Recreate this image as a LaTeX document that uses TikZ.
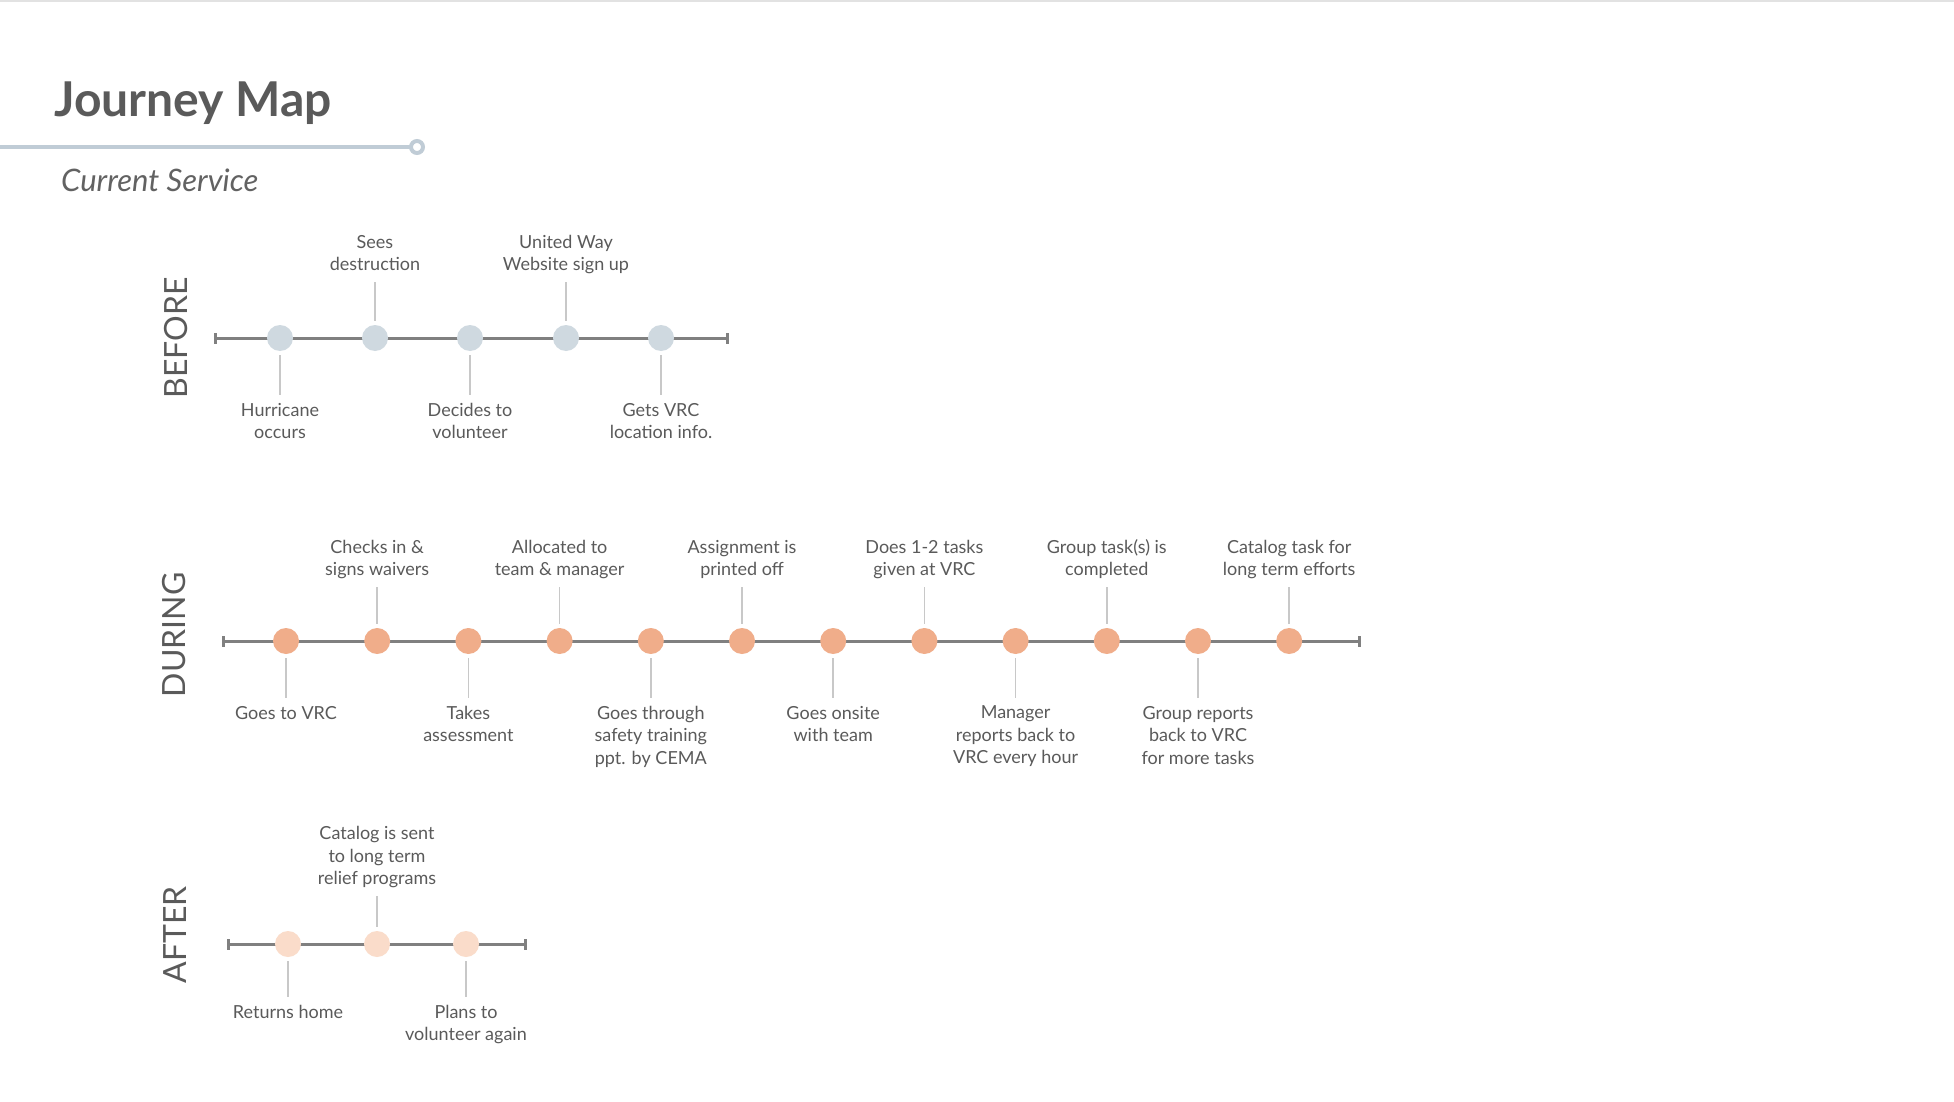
\documentclass[tikz,border=0pt]{standalone}
\usepackage{fontspec}
\setmainfont{Lato}
\usepackage{tikz}

\definecolor{inkgray}{HTML}{5A5A5A}
\definecolor{axisgray}{HTML}{808080}
\definecolor{stemgray}{HTML}{C8C8C8}
\definecolor{beforedot}{HTML}{CFD9E0}
\definecolor{duringdot}{HTML}{F0AD8A}
\definecolor{afterdot}{HTML}{FADCCA}
\definecolor{rulegray}{HTML}{C0CCD6}
\definecolor{bordergray}{HTML}{E2E2E2}

\newcommand{\labelfont}{\fontsize{18}{22.5}\selectfont}

\tikzset{
  dot/.style={circle, minimum size=26pt, inner sep=0pt, outer sep=4pt},
  lblup/.style={anchor=south, align=center, inner sep=0pt, outer sep=8pt, text=inkgray, font=\labelfont,
                execute at end node=\vphantom{gp}},
  lbldn/.style={anchor=north, align=center, inner sep=0pt, outer sep=8pt, text=inkgray, font=\labelfont},
  stem/.style={draw=stemgray, line width=1.5pt},
  axis/.style={draw=axisgray, line width=3pt},
  phase/.style={rotate=90, text=inkgray, font=\fontsize{32}{36}\selectfont}
}

\begin{document}
\begin{tikzpicture}[x=1pt, y=-1pt]
        \useasboundingbox (0,0) rectangle (1954,1102);
        \fill [white] (0,0) rectangle (1954,1102);
        \draw [bordergray, line width=2pt] (0,1) -- (1954,1);

        %Title
        \node [anchor=base west, inner sep=0pt, text=inkgray,
               font=\fontsize{48}{54}\selectfont\bfseries] (title) at (54,117) {Journey Map};
        \coordinate (tstart) at (0,147);
        \node [circle, draw=rulegray, line width=4pt, minimum size=12pt, inner sep=0pt,
               outer sep=0pt, fill=white] (tend) at (417,147) {};
        \draw [rulegray, line width=4pt] (tstart) -- (tend);
        \node [anchor=base west, inner sep=0pt, text=inkgray!95,
               font=\fontsize{31}{36}\selectfont\itshape] (subtitle) at (61,192) {Current Service};

        %Before
        \node [phase] (before) at (176,338) {BEFORE};
        \coordinate (bs) at (215,338);
        \coordinate (be) at (727,338);
        \draw [axis] (bs) -- (be);
        \draw [axis] ([yshift=-5.5pt]bs) -- ([yshift=5.5pt]bs);
        \draw [axis] ([yshift=-5.5pt]be) -- ([yshift=5.5pt]be);
        \node [dot, fill=beforedot] (b1) at (280,338) {};
        \node [dot, fill=beforedot] (b2) at (375,338) {};
        \node [dot, fill=beforedot] (b3) at (470,338) {};
        \node [dot, fill=beforedot] (b4) at (566,338) {};
        \node [dot, fill=beforedot] (b5) at (661,338) {};
        \node [lbldn] (b1l) at (280,395) {Hurricane\\occurs};
        \node [lblup] (b2l) at (375,282) {Sees\\destruction};
        \node [lbldn] (b3l) at (470,395) {Decides to\\volunteer};
        \node [lblup] (b4l) at (566,282) {United Way\\Website sign up};
        \node [lbldn] (b5l) at (661,395) {Gets VRC\\location info.};
        \draw [stem] (b1) -- (b1l);
        \draw [stem] (b2l) -- (b2);
        \draw [stem] (b3) -- (b3l);
        \draw [stem] (b4l) -- (b4);
        \draw [stem] (b5) -- (b5l);

        %During
        \node [phase] (during) at (174,635) {DURING};
        \coordinate (ds) at (223,641);
        \coordinate (de) at (1359,641);
        \draw [axis] (ds) -- (de);
        \draw [axis] ([yshift=-5.5pt]ds) -- ([yshift=5.5pt]ds);
        \draw [axis] ([yshift=-5.5pt]de) -- ([yshift=5.5pt]de);
        \node [dot, fill=duringdot] (d1)  at (286,641) {};
        \node [dot, fill=duringdot] (d2)  at (377.2,641) {};
        \node [dot, fill=duringdot] (d3)  at (468.4,641) {};
        \node [dot, fill=duringdot] (d4)  at (559.6,641) {};
        \node [dot, fill=duringdot] (d5)  at (650.8,641) {};
        \node [dot, fill=duringdot] (d6)  at (742,641) {};
        \node [dot, fill=duringdot] (d7)  at (833.2,641) {};
        \node [dot, fill=duringdot] (d8)  at (924.4,641) {};
        \node [dot, fill=duringdot] (d9)  at (1015.6,641) {};
        \node [dot, fill=duringdot] (d10) at (1106.8,641) {};
        \node [dot, fill=duringdot] (d11) at (1198,641) {};
        \node [dot, fill=duringdot] (d12) at (1289.2,641) {};
        \node [lbldn] (d1l)  at (286,698) {Goes to VRC};
        \node [lblup] (d2l)  at (377.2,587) {Checks in \&\\signs waivers};
        \node [lbldn] (d3l)  at (468.4,698) {Takes\\assessment};
        \node [lblup] (d4l)  at (559.6,587) {Allocated to\\team \& manager};
        \node [lbldn] (d5l)  at (650.8,698) {Goes through\\safety training\\ppt. by CEMA};
        \node [lblup] (d6l)  at (742,587) {Assignment is\\printed off};
        \node [lbldn] (d7l)  at (833.2,698) {Goes onsite\\with team};
        \node [lblup] (d8l)  at (924.4,587) {Does 1-2 tasks\\given at VRC};
        \node [lbldn] (d9l)  at (1015.6,698) {Manager\\reports back to\\VRC every hour};
        \node [lblup] (d10l) at (1106.8,587) {Group task(s) is\\completed};
        \node [lbldn] (d11l) at (1198,698) {Group reports\\back to VRC\\for more tasks};
        \node [lblup] (d12l) at (1289.2,587) {Catalog task for\\long term efforts};
        \draw [stem] (d1) -- (d1l);
        \draw [stem] (d2l) -- (d2);
        \draw [stem] (d3) -- (d3l);
        \draw [stem] (d4l) -- (d4);
        \draw [stem] (d5) -- (d5l);
        \draw [stem] (d6l) -- (d6);
        \draw [stem] (d7) -- (d7l);
        \draw [stem] (d8l) -- (d8);
        \draw [stem] (d9) -- (d9l);
        \draw [stem] (d10l) -- (d10);
        \draw [stem] (d11) -- (d11l);
        \draw [stem] (d12l) -- (d12);

        %After
        \node [phase] (after) at (175,935) {AFTER};
        \coordinate (as) at (228,944);
        \coordinate (ae) at (525,944);
        \draw [axis] (as) -- (ae);
        \draw [axis] ([yshift=-5.5pt]as) -- ([yshift=5.5pt]as);
        \draw [axis] ([yshift=-5.5pt]ae) -- ([yshift=5.5pt]ae);
        \node [dot, fill=afterdot] (a1) at (288,944) {};
        \node [dot, fill=afterdot] (a2) at (377,944) {};
        \node [dot, fill=afterdot] (a3) at (466,944) {};
        \node [lbldn] (a1l) at (288,997) {Returns home};
        \node [lblup] (a2l) at (377,896) {Catalog is sent\\to long term\\relief programs};
        \node [lbldn] (a3l) at (466,997) {Plans to\\volunteer again};
        \draw [stem] (a1) -- (a1l);
        \draw [stem] (a2l) -- (a2);
        \draw [stem] (a3) -- (a3l);
      \end{tikzpicture}
\end{document}
